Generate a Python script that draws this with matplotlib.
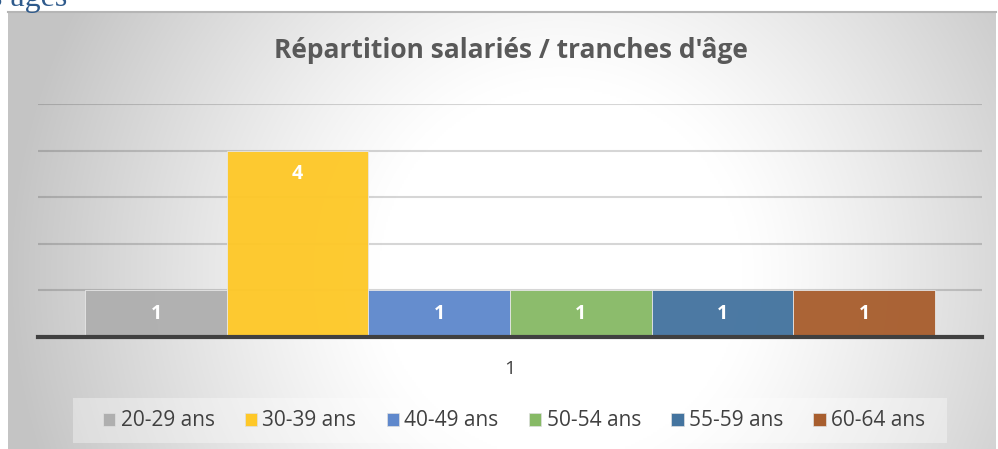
import numpy as np
import matplotlib
matplotlib.use("Agg")
import matplotlib.pyplot as plt
from matplotlib.patches import Rectangle

plt.rcParams['font.family'] = ['Open Sans', 'DejaVu Sans']

categories = ["1"]
series = ["20-29 ans", "30-39 ans", "40-49 ans", "50-54 ans", "55-59 ans", "60-64 ans"]
values = [1, 4, 1, 1, 1, 1]
colors = ["#AFAFAF", "#FEC828", "#5F88CC", "#87BA66", "#44749F", "#A85E2E"]
title = "Répartition salariés / tranches d'âge"

W, H = 998, 449
fig = plt.figure(figsize=(W / 100, H / 100), dpi=100)
fig.patch.set_facecolor("white")

# cut-off heading text above chart
fig.text(67 / W, 1 - 6 / H, "s âges", family=["Liberation Serif"], fontsize=23,
         color="#2E5A8C", ha="right", va="baseline")

# background frame with radial gradient
fx0, fy0, fx1 = 8, 12, 996
bg = fig.add_axes([fx0 / W, 0, (fx1 - fx0) / W, (H - fy0) / H])
nx, ny = 500, 220
xx, yy = np.meshgrid(np.linspace(0, 1, nx), np.linspace(0, 1, ny))
cx, cy = 0.56, 0.40
d = np.sqrt(((xx - cx) / 0.56) ** 2 + ((yy - cy) / 1.3) ** 2)
t = np.clip((d - 0.33) / 0.67, 0, 1) ** 1.15
v = 1.0 - t * (1.0 - 0.77)
img = np.dstack([v, v, v])
bg.imshow(img, extent=[0, 1, 0, 1], aspect="auto", interpolation="bilinear", origin="lower")
bg.set_xlim(0, 1)
bg.set_ylim(0, 1)
bg.axis("off")
bg.plot([0, 1], [1, 1], color="#B5B5B5", lw=1.5, transform=bg.transAxes, clip_on=False)

# main axes
ax0, ax1 = 38, 982
ytop, ybot = 104, 337
ax = fig.add_axes([ax0 / W, 1 - ybot / H, (ax1 - ax0) / W, (ybot - ytop) / H])
ax.set_facecolor("none")
ax.set_xlim(-0.5, 0.5)
ax.set_ylim(0, 5)
for s in ax.spines.values():
    s.set_visible(False)
ax.set_yticks([1, 2, 3, 4, 5])
ax.yaxis.grid(True, color="black", alpha=0.16, lw=1.5)
ax.set_axisbelow(True)
ax.tick_params(left=False, labelleft=False, bottom=False, labelbottom=False)
ax.axhline(0, color="#404040", lw=3, zorder=5, clip_on=False)

n = len(series)
bw = 0.9 / n
start = -0.45 + bw / 2
for i, (lab, val, col) in enumerate(zip(series, values, colors)):
    x = start + i * bw
    ax.bar(x, val, width=bw, color=col, edgecolor="#E8E8E8", linewidth=0.6,
           label=lab, zorder=2, alpha=0.96)
    ax.text(x, val - 0.5, str(val), ha="center", va="center", color="white",
            fontsize=14, fontweight="bold", zorder=6)

# category label
fig.text(510 / W, 1 - 369 / H, categories[0], ha="center", va="center",
         fontsize=14, color="#404040")

# title
fig.text(511 / W, 1 - 51 / H, title, ha="center", va="center", fontsize=19,
         fontweight="bold", color="#595959")

# legend background box
lx0, lx1, ly0, ly1 = 73, 947, 398, 443
fig.patches.append(Rectangle((lx0 / W, 1 - ly1 / H), (lx1 - lx0) / W, (ly1 - ly0) / H,
                             transform=fig.transFigure, facecolor="white", alpha=0.35,
                             edgecolor="none", zorder=1))
handles = [Rectangle((0, 0), 1, 1, facecolor=c, edgecolor="#E0E0E0", lw=0.5) for c in colors]
leg = fig.legend(handles, series, loc="center", bbox_to_anchor=(514 / W, 1 - 421 / H),
                 ncol=n, frameon=False, fontsize=15, handlelength=0.6,
                 handleheight=0.6, handletextpad=0.25, columnspacing=1.45,
                 labelcolor="#404040")

fig.savefig("out.png", dpi=100)
